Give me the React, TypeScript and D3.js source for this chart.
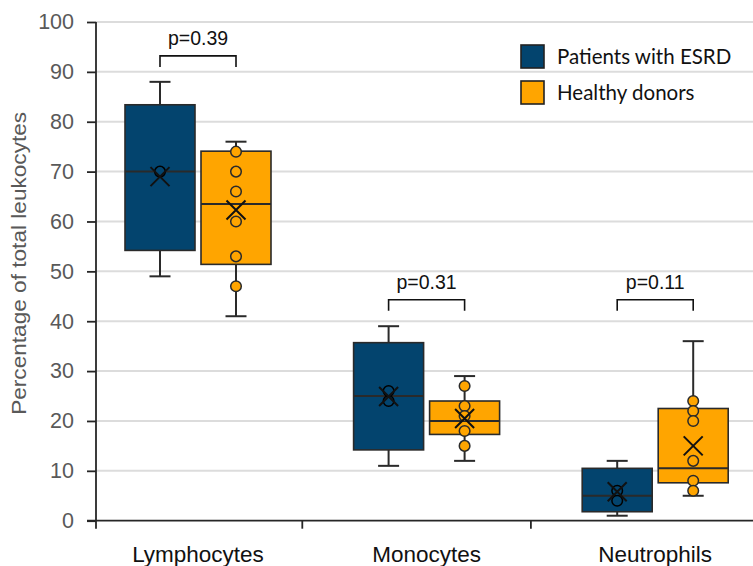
import { useEffect, useRef } from 'react';
import * as d3 from 'd3';

// categories + series
const categories = ['Lymphocytes', 'Monocytes', 'Neutrophils'];
const groups = ['Patients with ESRD', 'Healthy donors'];
const groupColors = ['#03446e', '#ffa500'];

// [min, q1, median, q3, max]
const esrdBoxes = [
  [49, 54.2, 70, 83.4, 88],
  [11, 14.2, 25, 35.7, 39],
  [1, 1.8, 5, 10.5, 12],
];
const esrdMeans = [69, 24.9, 5.8];
const esrdPoints = [[70], [26, 24], [6, 4]];

const donorBoxes = [
  [41, 51.4, 63.5, 74.1, 76],
  [12, 17.3, 20, 24, 29],
  [5, 7.6, 10.5, 22.5, 36],
];
const donorMeans = [62.3, 20.5, 15];
const donorPoints = [
  [74, 70, 66, 60, 53, 47],
  [27, 23, 21, 18, 15],
  [24, 22, 20, 12, 8, 6],
];

const pLabels = ['p=0.39', 'p=0.31', 'p=0.11'];
const bracketLevels = [93.2, 44.3, 44.3];

const yTitle = 'Percentage of total leukocytes';

export default function App() {
  const svgRef = useRef<SVGSVGElement | null>(null);

  useEffect(() => {
    const svg = svgRef.current;
    if (!svg) return;

    const width = 753;
    const height = 566;
    const axisX = 96;

    const x = d3.scaleBand().domain(categories).range([83.7, 769.5]);
    const sub = d3.scaleBand().domain(groups).range([-73, 73]).paddingInner(0.079);
    const y = d3.scaleLinear().domain([0, 100]).range([520.7, 22]);

    const root = d3.select(svg);
    root.attr('viewBox', `0 0 ${width} ${height}`);
    root.selectAll('*').remove();

    const font = "'Liberation Sans', Arial, sans-serif";

    // gridlines
    root
      .append('g')
      .selectAll('line')
      .data(y.ticks(10).filter((d) => d > 0))
      .join('line')
      .attr('x1', axisX)
      .attr('x2', width)
      .attr('y1', (d) => y(d))
      .attr('y2', (d) => y(d))
      .attr('stroke', '#dcdcdc')
      .attr('stroke-width', 2);

    // y axis
    root
      .append('g')
      .attr('transform', `translate(${axisX},0)`)
      .call(d3.axisLeft(y).ticks(10).tickSize(9).tickPadding(13))
      .call((g) => g.attr('font-family', font).attr('font-size', 21.5))
      .call((g) => g.select('.domain').attr('stroke', '#262626').attr('stroke-width', 1.8).attr('d', `M0,${y(100)}V${y(0) + 8}`))
      .call((g) => g.selectAll('line').attr('stroke', '#262626').attr('stroke-width', 1.8))
      .call((g) => g.selectAll('text').attr('fill', '#595959'));

    // x axis
    const xa = root.append('g');
    xa.append('line')
      .attr('x1', axisX - 9)
      .attr('x2', width)
      .attr('y1', y(0))
      .attr('y2', y(0))
      .attr('stroke', '#262626')
      .attr('stroke-width', 1.8);
    xa.selectAll('line.tick')
      .data(categories.slice(1))
      .join('line')
      .attr('class', 'tick')
      .attr('x1', (d) => x(d)! - 10)
      .attr('x2', (d) => x(d)! - 10)
      .attr('y1', y(0))
      .attr('y2', y(0) + 8)
      .attr('stroke', '#262626')
      .attr('stroke-width', 1.8);
    xa.selectAll('text')
      .data(categories)
      .join('text')
      .attr('x', (d) => x(d)! + x.bandwidth() / 2)
      .attr('y', 562)
      .attr('text-anchor', 'middle')
      .attr('font-size', 22.5)
      .attr('font-family', font)
      .attr('fill', '#111')
      .text((d) => d);

    // y title
    root
      .append('text')
      .attr('transform', `translate(25.5,${y(50) - 8}) rotate(-90)`)
      .attr('text-anchor', 'middle')
      .attr('font-size', 21)
      .attr('textLength', 303)
      .attr('lengthAdjust', 'spacingAndGlyphs')
      .attr('font-family', font)
      .attr('fill', '#595959')
      .text(yTitle);

    const series = [
      { boxes: esrdBoxes, means: esrdMeans, points: esrdPoints },
      { boxes: donorBoxes, means: donorMeans, points: donorPoints },
    ];
    const bw = sub.bandwidth();
    const capHalf = 10.5;

    series.forEach((s, gi) => {
      const color = groupColors[gi];
      const g = root.append('g');
      categories.forEach((cat, ci) => {
        const [mn, q1, md, q3, mx] = s.boxes[ci];
        const left = x(cat)! + x.bandwidth() / 2 + sub(groups[gi])!;
        const cx = left + bw / 2;
        const stroke = '#2a2a2a';

        // whiskers
        [
          [q3, mx],
          [q1, mn],
        ].forEach(([a, b]) => {
          g.append('line').attr('x1', cx).attr('x2', cx).attr('y1', y(a)).attr('y2', y(b))
            .attr('stroke', stroke).attr('stroke-width', 2);
          g.append('line').attr('x1', cx - capHalf).attr('x2', cx + capHalf).attr('y1', y(b)).attr('y2', y(b))
            .attr('stroke', stroke).attr('stroke-width', 2);
        });

        g.append('rect')
          .attr('x', left)
          .attr('y', y(q3))
          .attr('width', bw)
          .attr('height', y(q1) - y(q3))
          .attr('fill', color)
          .attr('stroke', stroke)
          .attr('stroke-width', 1.6);

        g.append('line')
          .attr('x1', left)
          .attr('x2', left + bw)
          .attr('y1', y(md))
          .attr('y2', y(md))
          .attr('stroke', stroke)
          .attr('stroke-width', 2);

        g.selectAll(null)
          .data(s.points[ci])
          .join('circle')
          .attr('cx', cx)
          .attr('cy', (d) => y(d))
          .attr('r', 5.3)
          .attr('fill', color)
          .attr('stroke', gi === 0 ? '#000' : stroke)
          .attr('stroke-width', 1.5);

        const my = y(s.means[ci]);
        const mk = 9.5;
        g.append('path')
          .attr('d', `M${cx - mk},${my - mk}L${cx + mk},${my + mk}M${cx - mk},${my + mk}L${cx + mk},${my - mk}`)
          .attr('stroke', '#111')
          .attr('stroke-width', 2)
          .attr('fill', 'none');
      });
    });

    // p-value brackets
    const pg = root.append('g');
    categories.forEach((cat, ci) => {
      const c = x(cat)! + x.bandwidth() / 2;
      const x1 = c + sub(groups[0])! + bw / 2;
      const x2 = c + sub(groups[1])! + bw / 2;
      const top = y(bracketLevels[ci]);
      const bottom = y(bracketLevels[ci] - 2.2);
      pg.append('path')
        .attr('d', `M${x1},${bottom}V${top}H${x2}V${bottom}`)
        .attr('fill', 'none')
        .attr('stroke', '#111')
        .attr('stroke-width', 1.6);
      pg.append('text')
        .attr('x', c)
        .attr('y', top - 11)
        .attr('text-anchor', 'middle')
        .attr('font-size', 19.5)
        .attr('font-family', font)
        .attr('fill', '#111')
        .text(pLabels[ci]);
    });

    // legend
    const lg = root.append('g').attr('transform', 'translate(521,45)');
    groups.forEach((name, i) => {
      const row = lg.append('g').attr('transform', `translate(0,${i * 36})`);
      row.append('rect')
        .attr('width', 23)
        .attr('height', 23)
        .attr('fill', groupColors[i])
        .attr('stroke', '#222')
        .attr('stroke-width', 1.6);
      row.append('text')
        .attr('x', 36)
        .attr('y', 18.5)
        .attr('font-size', 20.5)
        .attr('font-family', 'Lato, sans-serif')
        .attr('fill', '#111')
        .text(name);
    });
  }, []);

  return (
    <div style={{ position: 'absolute', left: 0, top: 0 }}>
      <svg ref={svgRef} width={753} height={566} style={{ display: 'block', background: '#fff' }} />
    </div>
  );
}
